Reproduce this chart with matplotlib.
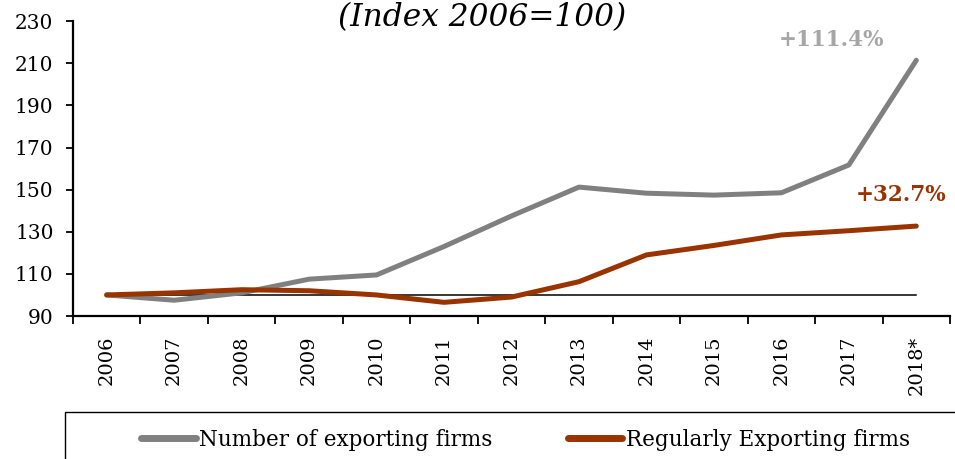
import numpy as np
import matplotlib.pyplot as plt
from matplotlib.patches import Rectangle
from matplotlib.lines import Line2D

# data (index 2006=100)
years = ['2006', '2007', '2008', '2009', '2010', '2011', '2012',
         '2013', '2014', '2015', '2016', '2017', '2018*']
exporting = [100, 97.5, 101, 107.5, 109.5, 123, 137.5,
             151.2, 148.3, 147.4, 148.5, 161.7, 211.4]
regular = [100, 101, 102.5, 102, 100, 96.5, 99,
           106.3, 119, 123.5, 128.5, 130.5, 132.7]
baseline = [100] * len(years)
yticks = [90, 110, 130, 150, 170, 190, 210, 230]

gray = '#808080'
red = '#993300'

plt.rcParams['font.family'] = ['DejaVu Serif']

fig = plt.figure(figsize=(9.55, 4.59), dpi=100)
ax = fig.add_axes([0.0764, 0.3115, 0.9184, 0.6425])

x = np.arange(len(years))
ax.plot(x, baseline, color='black', lw=1.1, zorder=1)
ax.plot(x, exporting, color=gray, lw=3.6, solid_capstyle='round', zorder=2)
ax.plot(x, regular, color=red, lw=3.6, solid_capstyle='round', zorder=3)

ax.set_xlim(-0.5, len(years) - 0.5)
ax.set_ylim(90, 230)
ax.set_yticks(yticks)
ax.set_yticklabels([str(v) for v in yticks], fontsize=14.5)
ax.set_xticks(x)
ax.set_xticklabels(years, rotation=90, fontsize=14)
ax.set_xticks(np.arange(-0.5, len(years)), minor=True)
ax.tick_params(axis='x', which='major', length=0, pad=14)
ax.tick_params(axis='x', which='minor', length=6, width=1.3, direction='out')
ax.tick_params(axis='y', length=5, width=1.3, direction='out', pad=9)
for s in ['top', 'right']:
    ax.spines[s].set_visible(False)
for s in ['left', 'bottom']:
    ax.spines[s].set_linewidth(1.6)

ax.text(10.74, 221, '+111.4%', color='#A6A6A6', fontsize=15.5, fontweight='bold',
        ha='center', va='center')
ax.text(11.77, 147.5, '+32.7%', color=red, fontsize=15.5, fontweight='bold',
        ha='center', va='center')

fig.text(0.505, 1 - 33 / 459, '(Index 2006=100)', fontsize=22.5, style='italic',
         ha='center', va='bottom')

# legend box running off the bottom/right edge like the source
fig.patches.append(Rectangle((65 / 955, -0.1), 1.0, 0.1 + (459 - 412) / 459,
                             transform=fig.transFigure, fill=False,
                             edgecolor='black', lw=1.0, clip_on=False))
handles = [Line2D([], [], color=gray, lw=5, solid_capstyle='round'),
           Line2D([], [], color=red, lw=5, solid_capstyle='round')]
fig.legend(handles, ['Number of exporting firms', 'Regularly Exporting firms'],
           loc='center', bbox_to_anchor=(0.55, 1 - 440 / 459), ncol=2,
           frameon=False, fontsize=15.5, handlelength=2.55, handletextpad=0.15,
           columnspacing=3.5)

fig.savefig('out.png', dpi=100)
